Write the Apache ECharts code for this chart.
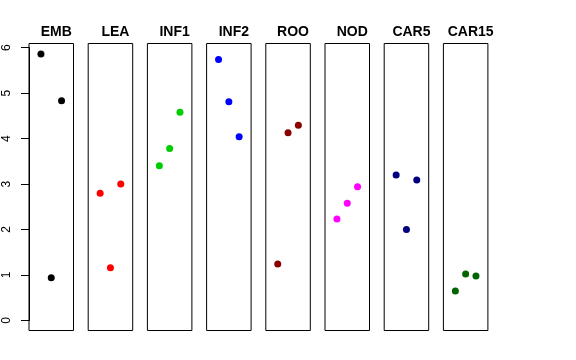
<!DOCTYPE html>
<html>
<head>
<meta charset="utf-8">
<script src="https://cdn.jsdelivr.net/npm/echarts@6/dist/echarts.min.js"></script>
<style>html,body{margin:0;padding:0;background:#fff}#c{width:576px;height:360px}</style>
</head>
<body>
<div id="c"></div>
<script>
var panels = ['EMB', 'LEA', 'INF1', 'INF2', 'ROO', 'NOD', 'CAR5', 'CAR15'];
var xPositions = [1, 2, 3];
var EMB = [5.86, 0.94, 4.83];
var LEA = [2.80, 1.16, 3.00];
var INF1 = [3.40, 3.78, 4.58];
var INF2 = [5.74, 4.81, 4.04];
var ROO = [1.24, 4.13, 4.29];
var NOD = [2.23, 2.58, 2.94];
var CAR5 = [3.20, 2.00, 3.09];
var CAR15 = [0.65, 1.02, 0.98];
var yTicks = [0, 1, 2, 3, 4, 5, 6];
var colors = ['#000000', '#FF0000', '#00CD00', '#0000FF', '#8B0000', '#FF00FF', '#000080', '#006400'];
var seriesValues = [EMB, LEA, INF1, INF2, ROO, NOD, CAR5, CAR15];

(function () {
  var font = 'Liberation Sans, Arial, Helvetica, sans-serif';
  var grids = [], xAxes = [], yAxes = [], series = [], titles = [];
  var left0 = 29, step = 59.2, w = 44.5, gTop = 43.5, gH = 287;
  panels.forEach(function (name, i) {
    var l = left0 + step * i;
    grids.push({left: l, top: gTop, width: w, height: gH, show: true, borderColor: '#000', borderWidth: 1, backgroundColor: 'transparent'});
    xAxes.push({type: 'value', gridIndex: i, min: -0.16, max: 4.16, show: false});
    yAxes.push({type: 'value', gridIndex: i, min: -0.22, max: 6.09, show: false});
    series.push({
      type: 'scatter', xAxisIndex: i, yAxisIndex: i, symbol: 'circle', symbolSize: 7,
      itemStyle: {color: colors[i], opacity: 1},
      data: seriesValues[i].map(function (v, k) { return [xPositions[k], v]; }),
      silent: true, animation: false
    });
    titles.push({text: name, left: l + w / 2, top: 20, textAlign: 'center',
      textStyle: {fontFamily: font, fontSize: 14, fontWeight: 'bold', color: '#000'}});
  });
  grids.push({left: left0, top: 47.6, width: 10, height: 272.9, show: false});
  xAxes.push({type: 'value', gridIndex: 8, min: 0, max: 1, show: false});
  yAxes.push({type: 'value', gridIndex: 8, min: yTicks[0], max: yTicks[yTicks.length - 1], interval: 1,
    axisLine: {show: true, lineStyle: {color: '#000', width: 1}},
    axisTick: {show: true, length: 8, lineStyle: {color: '#000'}},
    splitLine: {show: false},
    axisLabel: {rotate: 90, fontSize: 12, color: '#000', fontFamily: font, margin: 16}
  });

  var chart = echarts.init(document.getElementById('c'), null, {renderer: 'canvas'});
  chart.setOption({
    animation: false,
    backgroundColor: '#fff',
    title: titles,
    grid: grids,
    xAxis: xAxes,
    yAxis: yAxes,
    series: series
  });
})();
</script>
</body>
</html>
